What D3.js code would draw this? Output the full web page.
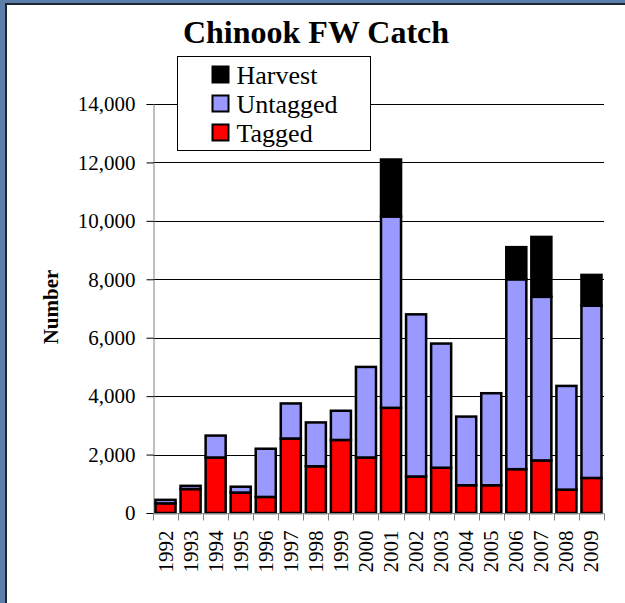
<!DOCTYPE html>
<html>
<head>
<meta charset="utf-8">
<script src="https://cdn.jsdelivr.net/npm/d3@7"></script>
<style>
  body { margin: 0; background: #5b7fa8; }
  #chart-area { width: 625px; height: 603px; }
</style>
</head>
<body>
<div id="chart-area"></div>
<script>
// data
const years = ["1992", "1993", "1994", "1995", "1996", "1997", "1998", "1999", "2000",
	"2001", "2002", "2003", "2004", "2005", "2006", "2007", "2008", "2009"];
const tagged = [330, 820, 1900, 700, 550, 2550, 1600, 2500, 1900, 3600, 1250, 1550, 950, 950, 1500, 1800, 800, 1200];
const untagged = [120, 110, 750, 200, 1650, 1200, 1500, 1000, 3100, 6550, 5550, 4250, 2350, 3150, 6500, 5600, 3550, 5900];
const harvest = [0, 0, 0, 0, 0, 0, 0, 0, 0, 1950, 0, 0, 0, 0, 1100, 2050, 0, 1050];
const yTicks = [0, 2000, 4000, 6000, 8000, 10000, 12000, 14000];

const seriesNames = ["Tagged", "Untagged", "Harvest"];
const colors = { Tagged: "#ff0000", Untagged: "#9999ff", Harvest: "#000000" };

const svg = d3.select("#chart-area")
	.append("svg")
	.attr("width", 625)
	.attr("height", 603);

// white panel with dark border
svg.append("rect")
	.attr("x", 6)
	.attr("y", 4)
	.attr("width", 640)
	.attr("height", 620)
	.attr("fill", "#ffffff")
	.attr("stroke", "#1c2633")
	.attr("stroke-width", 2);

const margin = { left: 153, top: 104, right: 21, bottom: 90 };
const width = 625 - margin.left - margin.right;
const height = 603 - margin.top - margin.bottom;

const g = svg.append("g")
	.attr("transform", `translate(${margin.left}, ${margin.top})`);

const x = d3.scaleBand().domain(years).range([0, width]).paddingInner(0.2).paddingOuter(0.1);
const y = d3.scaleLinear().domain([0, 14000]).range([height, 0]);

// gridlines
g.append("g")
	.selectAll("line")
	.data(yTicks.filter(d => d > 0))
	.enter()
	.append("line")
	.attr("x1", 0)
	.attr("x2", width)
	.attr("y1", d => Math.round(y(d)) + 0.5)
	.attr("y2", d => Math.round(y(d)) + 0.5)
	.attr("stroke", "#000")
	.attr("stroke-width", 1);

// y axis
const yAxisCall = d3.axisLeft(y)
	.tickValues(yTicks)
	.tickSize(7)
	.tickPadding(11)
	.tickFormat(d3.format(","));
const yAxis = g.append("g")
	.attr("class", "y-axis")
	.attr("transform", "translate(0.5, 0)")
	.call(yAxisCall);
yAxis.select(".domain").attr("stroke", "#808080");
yAxis.selectAll(".tick line").attr("stroke", "#000");
yAxis.selectAll("text")
	.attr("font-family", "'Liberation Serif', 'Times New Roman', serif")
	.attr("font-size", "21px")
	.attr("fill", "#000");

// stacked bars
const rows = years.map((yr, i) => ({ year: yr, Tagged: tagged[i], Untagged: untagged[i], Harvest: harvest[i] }));
const stacked = d3.stack().keys(seriesNames)(rows);

g.selectAll("g.series")
	.data(stacked)
	.enter()
	.append("g")
	.attr("class", "series")
	.attr("fill", d => colors[d.key])
	.selectAll("rect")
	.data(d => d.filter(p => p[1] > p[0]))
	.enter()
	.append("rect")
	.attr("x", d => x(d.data.year))
	.attr("y", d => y(d[1]))
	.attr("width", x.bandwidth())
	.attr("height", d => y(d[0]) - y(d[1]))
	.attr("stroke", "#000")
	.attr("stroke-width", 2.5);

// x axis
const xAxis = g.append("g")
	.attr("class", "x-axis")
	.attr("transform", `translate(0, ${height + 0.5})`);
xAxis.append("line")
	.attr("x1", 0)
	.attr("x2", width)
	.attr("stroke", "#808080");
const step = x.step();
const boundaries = d3.range(years.length + 1).map(i => x(years[0]) - step * x.paddingInner() / 2 + i * step);
xAxis.selectAll("line.tick")
	.data(boundaries)
	.enter()
	.append("line")
	.attr("class", "tick")
	.attr("x1", d => Math.round(d) + 0.5)
	.attr("x2", d => Math.round(d) + 0.5)
	.attr("y1", 0)
	.attr("y2", 7)
	.attr("stroke", "#808080");
xAxis.selectAll("text")
	.data(years)
	.enter()
	.append("text")
	.attr("transform", d => `translate(${x(d) + x.bandwidth() / 2 + 7}, 17) rotate(-90)`)
	.attr("text-anchor", "end")
	.attr("font-family", "'Liberation Serif', 'Times New Roman', serif")
	.attr("font-size", "21px")
	.text(d => d);

// y-axis label
svg.append("text")
	.attr("transform", "translate(58, 307) rotate(-90)")
	.attr("text-anchor", "middle")
	.attr("font-family", "'Liberation Serif', 'Times New Roman', serif")
	.attr("font-weight", "bold")
	.attr("font-size", "21px")
	.text("Number");

// title
svg.append("text")
	.attr("x", 316)
	.attr("y", 43)
	.attr("text-anchor", "middle")
	.attr("font-family", "'Liberation Serif', 'Times New Roman', serif")
	.attr("font-weight", "bold")
	.attr("font-size", "32px")
	.text("Chinook FW Catch");

// legend
const legend = svg.append("g").attr("transform", "translate(177.5, 56.5)");
legend.append("rect")
	.attr("width", 193)
	.attr("height", 94)
	.attr("fill", "#fff")
	.attr("stroke", "#000");
const legendItems = legend.selectAll("g.item")
	.data(["Harvest", "Untagged", "Tagged"])
	.enter()
	.append("g")
	.attr("class", "item")
	.attr("transform", (d, i) => `translate(35, ${10 + i * 29})`);
legendItems.append("rect")
	.attr("width", 16)
	.attr("height", 16)
	.attr("fill", d => colors[d])
	.attr("stroke", "#000")
	.attr("stroke-width", 2);
legendItems.append("text")
	.attr("x", 24)
	.attr("y", 17)
	.attr("font-family", "'Liberation Serif', 'Times New Roman', serif")
	.attr("font-size", "26px")
	.text(d => d);
</script>
</body>
</html>
